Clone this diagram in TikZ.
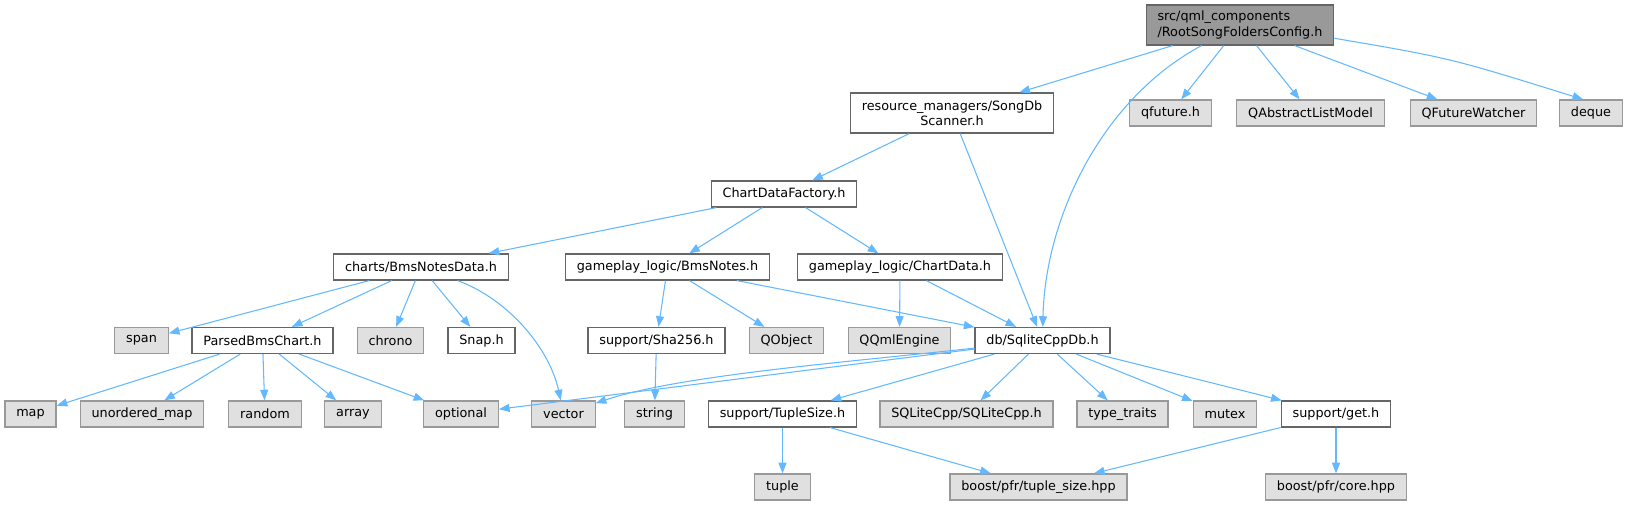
\documentclass[tikz,border=0pt]{standalone}
\usepackage{fontspec}
\setmainfont{DejaVu Sans}
\usepackage{xcolor}
\usetikzlibrary{arrows.meta}
\definecolor{depblue}{HTML}{63B8FF}
\definecolor{hline}{HTML}{666666}
\definecolor{sysline}{HTML}{999999}
\definecolor{sysfill}{HTML}{E0E0E0}
\definecolor{rootfill}{HTML}{999999}

\begin{document}
\begin{tikzpicture}[
  x=0.75pt, y=-0.75pt,
  hfile/.style={rectangle,draw=hline,fill=white,line width=0.9pt,inner xsep=8.5pt,inner ysep=0pt,minimum height=19.5pt,font=\fontsize{9.6}{11.3}\selectfont},
  sysfile/.style={hfile,draw=sysline,fill=sysfill},
  rootfile/.style={hfile,fill=rootfill,align=left,minimum height=30pt},
  dep/.style={draw=depblue,line width=0.8pt,-{Triangle[length=8pt,width=6pt]}}
]
  \useasboundingbox (0,0) rectangle (1629,505);
  \node[rootfile] (root) at (1240,25) {src/qml\_components\\/RootSongFoldersConfig.h};
  \node[hfile,align=center,minimum height=30pt] (scan) at (952,113) {resource\_managers/SongDb\\Scanner.h};
  \node[sysfile] (qfut) at (1170.5,113) {qfuture.h};
  \node[sysfile] (qalm) at (1310.5,113) {QAbstractListModel};
  \node[sysfile] (qfw) at (1473.5,113) {QFutureWatcher};
  \node[sysfile] (deque) at (1591,113) {deque};
  \node[hfile] (cdf) at (784,194) {ChartDataFactory.h};
  \node[hfile] (bnd) at (421,267) {charts/BmsNotesData.h};
  \node[hfile] (bn) at (667.5,267) {gameplay\_logic/BmsNotes.h};
  \node[hfile] (cd) at (900,267) {gameplay\_logic/ChartData.h};
  \node[sysfile] (span) at (141.5,340.5) {span};
  \node[hfile] (pbc) at (262.5,340.5) {ParsedBmsChart.h};
  \node[sysfile] (chrono) at (390.5,340.5) {chrono};
  \node[hfile] (snap) at (481.5,340.5) {Snap.h};
  \node[hfile] (sha) at (656.5,340.5) {support/Sha256.h};
  \node[sysfile] (qobj) at (786.5,340.5) {QObject};
  \node[sysfile] (qqml) at (899.5,340.5) {QQmlEngine};
  \node[hfile] (db) at (1042.5,340.5) {db/SqliteCppDb.h};
  \node[sysfile] (map) at (30.5,414) {map};
  \node[sysfile] (umap) at (142,414) {unordered\_map};
  \node[sysfile] (random) at (265,414) {random};
  \node[sysfile] (array) at (353,414) {array};
  \node[sysfile] (optional) at (461,414) {optional};
  \node[sysfile] (vector) at (563.5,414) {vector};
  \node[sysfile] (string) at (654.5,414) {string};
  \node[hfile] (tsize) at (782.5,414) {support/TupleSize.h};
  \node[sysfile] (sqlite) at (966.5,414) {SQLiteCpp/SQLiteCpp.h};
  \node[sysfile] (traits) at (1122.5,414) {type\_traits};
  \node[sysfile] (mutex) at (1225,414) {mutex};
  \node[hfile] (get) at (1336,414) {support/get.h};
  \node[sysfile] (tuple) at (782.5,487) {tuple};
  \node[sysfile] (pfrts) at (1038.5,487) {boost/pfr/tuple\_size.hpp};
  \node[sysfile] (pfrcore) at (1336,487) {boost/pfr/core.hpp};
  \draw[dep] (root) -- (scan);
  \draw[dep] (root) .. controls (1100,100) and (1045,220) .. (db);
  \draw[dep] (root) -- (qfut);
  \draw[dep] (root) -- (qalm);
  \draw[dep] (root) -- (qfw);
  \draw[dep] (root.-8) .. controls (1450,58) .. (deque.120);
  \draw[dep] (scan) -- (cdf);
  \draw[dep] (scan) -- (db);
  \draw[dep] (cdf) -- (bnd);
  \draw[dep] (cdf) -- (bn);
  \draw[dep] (cdf) -- (cd);
  \draw[dep] (bnd) -- (span);
  \draw[dep] (bnd) -- (pbc);
  \draw[dep] (bnd) -- (chrono);
  \draw[dep] (bnd) -- (snap);
  \draw[dep] (bnd) .. controls (510,300) and (550,350) .. (vector);
  \draw[dep] (bn) -- (sha);
  \draw[dep] (bn) -- (qobj);
  \draw[dep] (bn) -- (db);
  \draw[dep] (cd) -- (qqml);
  \draw[dep] (cd) -- (db);
  \draw[dep] (pbc) -- (map);
  \draw[dep] (pbc) -- (umap);
  \draw[dep] (pbc) -- (random);
  \draw[dep] (pbc) -- (array);
  \draw[dep] (pbc) -- (optional);
  \draw[dep] (sha) -- (string);
  \draw[dep] (db) -- (optional);
  \draw[dep] (db) .. controls (850,362) and (680,375) .. (vector);
  \draw[dep] (db) -- (tsize);
  \draw[dep] (db) -- (sqlite);
  \draw[dep] (db) -- (traits);
  \draw[dep] (db) -- (mutex);
  \draw[dep] (db) -- (get);
  \draw[dep] (tsize) -- (tuple);
  \draw[dep] (tsize) -- (pfrts);
  \draw[dep] (get) -- (pfrts);
  \draw[dep] (get) -- (pfrcore);
\end{tikzpicture}
\end{document}
